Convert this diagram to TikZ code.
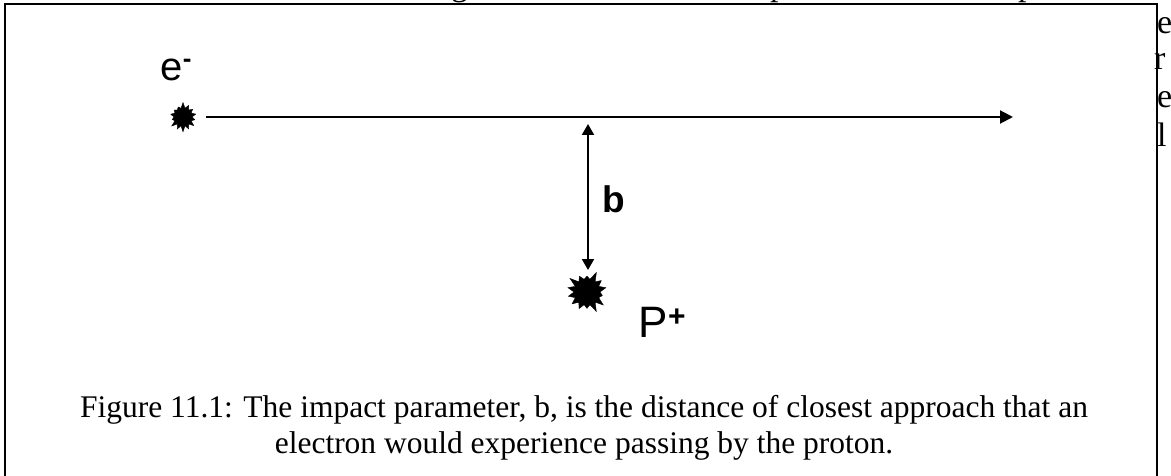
\documentclass[tikz,border=0pt]{standalone}
\usepackage{fontspec}
\setmainfont{Liberation Serif}
\newfontfamily\arial{Liberation Sans}
\usetikzlibrary{arrows.meta,shapes.symbols}
\begin{document}
\begin{tikzpicture}[x=1pt,y=-1pt,
  blob/.style={starburst, fill=black, draw=black, starburst points=14,
    inner sep=0pt, outer sep=0pt},
  arr/.style={line width=2pt, -{Triangle[length=13pt,width=13pt]}},
  dbl/.style={line width=2pt,
    {Triangle[length=11pt,width=12pt]}-{Triangle[length=11pt,width=12pt]}},
  lab/.style={font=\arial\fontsize{40}{40}\selectfont, inner sep=0pt, anchor=base west},
  blab/.style={font=\arial\bfseries\fontsize{37}{37}\selectfont, inner sep=0pt, anchor=base west},
  captext/.style={font=\fontsize{31.5}{36}\selectfont, inner sep=0pt, anchor=base},
  margin/.style={font=\fontsize{34}{34}\selectfont, inner sep=0pt, anchor=base west},
  frame/.style={line width=2pt}]
\useasboundingbox (0,0) rectangle (1171,476);
\begin{scope}
\clip (0,0) rectangle (1171,476);
% fragments of the surrounding page
\node[margin] (top1) at (451,-4) {g};
\node[margin] (top2) at (770,-4) {p};
\node[margin] (top3) at (1018,-4) {p};
\node[margin] (m1) at (1157,34) {e};
\node[margin] (m2) at (1154,70) {r};
\node[margin] (m3) at (1157,108) {e};
\node[margin] (m4) at (1157,147) {l};
% frame
\draw[frame] (5,480) -- (5,4) -- (1157,4) -- (1157,480);
% electron
\node[blob, minimum width=30pt, minimum height=30pt, starburst point height=6pt,
  random starburst=7] (el) at (183,117) {};
\node[lab] (elab) at (160.5,81) {e\raisebox{13pt}{\fontsize{26}{26}\selectfont\bfseries -}};
\coordinate (start) at (206,117);
\coordinate (end) at (1013,117);
\draw[arr] (start) -- (end);
% proton
\node[blob, minimum width=44pt, minimum height=44pt, starburst point height=9pt,
  random starburst=3] (pr) at (587,292) {};
\node[lab, font=\arial\fontsize{44}{44}\selectfont] (plab) at (638.5,337)
  {P\raisebox{11pt}{\fontsize{30}{30}\selectfont\bfseries +}};
% impact parameter
\coordinate (top) at (588,124);
\coordinate (bot) at (588,270);
\draw[dbl] (top) -- (bot);
\node[blab] (b) at (602.5,212) {b};
% caption
\node[captext] (cap1) at (584,417) {Figure 11.1: The impact parameter, b, is the distance of closest approach that an};
\node[captext] (cap2) at (584,453) {electron would experience passing by the proton.};
\end{scope}
\end{tikzpicture}
\end{document}
